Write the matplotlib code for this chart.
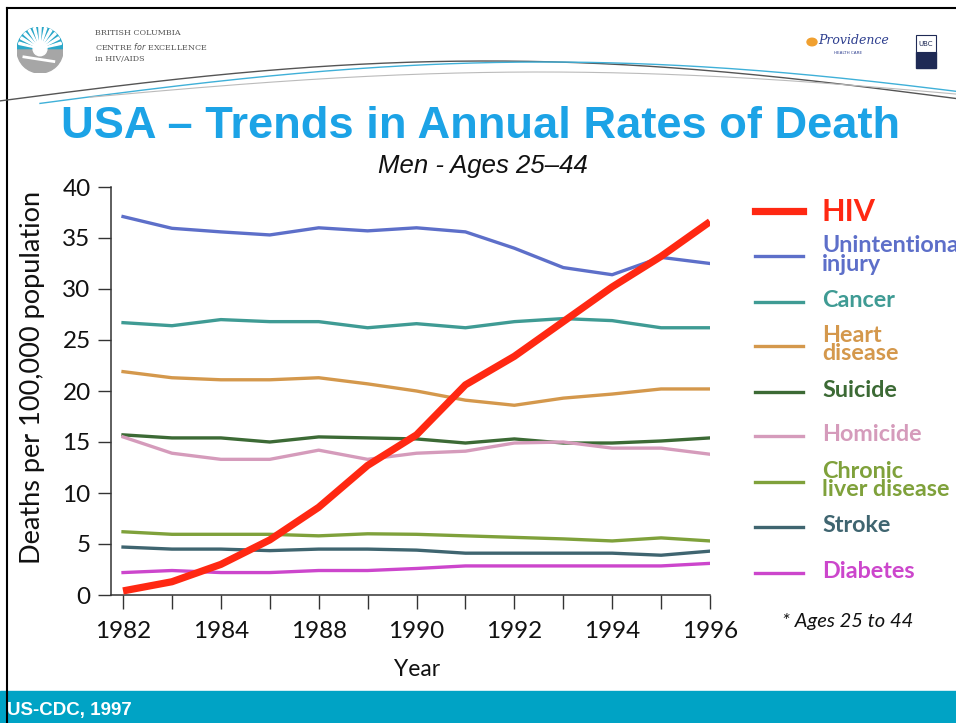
import numpy as np
import matplotlib.pyplot as plt
from matplotlib.lines import Line2D
from matplotlib.patches import Rectangle, Circle, Wedge

# --- data ---
years = ["1982", "", "1984", "", "1988", "", "1990", "", "1992", "", "1994", "", "1996"]

hiv = [0.4, 1.3, 3.0, 5.4, 8.6, 12.7, 15.7, 20.6, 23.4, 26.8, 30.2, 33.2, 36.6]
injury = [37.1, 35.95, 35.6, 35.3, 36.0, 35.7, 36.0, 35.6, 34.0, 32.1, 31.4, 33.1, 32.5]
cancer = [26.7, 26.4, 27.0, 26.8, 26.8, 26.2, 26.6, 26.2, 26.8, 27.1, 26.9, 26.2, 26.2]
heart = [21.9, 21.3, 21.1, 21.1, 21.3, 20.7, 20.0, 19.1, 18.6, 19.3, 19.7, 20.2, 20.2]
suicide = [15.7, 15.4, 15.4, 15.0, 15.5, 15.4, 15.3, 14.9, 15.3, 14.9, 14.9, 15.1, 15.4]
homicide = [15.5, 13.9, 13.3, 13.3, 14.2, 13.3, 13.9, 14.1, 14.9, 15.0, 14.4, 14.4, 13.8]
liver = [6.2, 5.95, 5.95, 5.95, 5.8, 6.0, 5.95, 5.8, 5.65, 5.5, 5.3, 5.6, 5.3]
stroke = [4.7, 4.5, 4.5, 4.35, 4.5, 4.5, 4.4, 4.1, 4.1, 4.1, 4.1, 3.9, 4.3]
diabetes = [2.2, 2.4, 2.2, 2.2, 2.4, 2.4, 2.6, 2.85, 2.85, 2.85, 2.85, 2.85, 3.1]

names = ["HIV", "Unintentional\ninjury", "Cancer", "Heart\ndisease", "Suicide",
         "Homicide", "Chronic\nliver disease", "Stroke", "Diabetes"]
series = [hiv, injury, cancer, heart, suicide, homicide, liver, stroke, diabetes]
colors = ["#ff2812", "#5d6fc9", "#3f9b94", "#d4984c", "#3c6a35",
          "#d59bbb", "#7fa13b", "#3f6570", "#cc46cc"]

W, H = 956, 723


def px(x, y):
    return (x / W, 1 - y / H)


fig = plt.figure(figsize=(W / 100, H / 100), dpi=100)
fig.patch.set_facecolor("white")

# slide frame (top + left)
fig.add_artist(Line2D([px(7, 8)[0], 1], [px(7, 8)[1]] * 2, color="black", lw=1.5))
fig.add_artist(Line2D([px(7, 8)[0]] * 2, [px(7, 8)[1], 0], color="black", lw=1.5))

# header swooshes
t = np.linspace(0, 1, 200)
sx = t * W
fig.add_artist(Line2D(*zip(*[px(x, 103 - 42 * np.sin(np.pi * x / W * 0.95 + 0.05)) for x in sx]),
                      color="#555555", lw=1.0))
bx = 40 + t * (W - 40)
fig.add_artist(Line2D(*zip(*[px(x, 108 - 46 * np.sin(np.pi * (x - 40) / (W - 40) * 0.85 + 0.1)) for x in bx]),
                      color="#3fb0d8", lw=1.0))
gx = 90 + t * (W - 90)
fig.add_artist(Line2D(*zip(*[px(x, 100 - 28 * np.sin(np.pi * (x - 90) / (W - 90) * 0.9 + 0.1)) for x in gx]),
                      color="#bbbbbb", lw=0.8))

# BC Centre logo
lx, ly = px(40, 50)
logo_r = 23 / H
asp = H / W
circ = fig.add_axes([lx - logo_r * asp, ly - logo_r, 2 * logo_r * asp, 2 * logo_r])
circ.set_xlim(-1, 1)
circ.set_ylim(-1, 1)
circ.axis("off")
circ.add_patch(Wedge((0, 0), 1, 0, 180, color="#2aa7c9"))
circ.add_patch(Wedge((0, 0), 1, 180, 360, color="#a6a6a6"))
for a in np.linspace(15, 165, 11):
    circ.add_patch(Wedge((0, 0.05), 0.95, a - 3, a + 3, color="white"))
circ.add_patch(Circle((0, 0.05), 0.3, color="white"))
circ.plot([-0.7, 0.6], [-0.3, -0.5], color="white", lw=2)

fig.text(*px(95, 33), "BRITISH COLUMBIA", family="DejaVu Serif", fontsize=5.8,
         color="#555555", va="center")
fig.text(*px(95, 46), "CENTRE $\\it{for}$ EXCELLENCE", family="DejaVu Serif", fontsize=5.8,
         color="#555555", va="center")
fig.text(*px(95, 59), "in HIV/AIDS", family="DejaVu Serif", fontsize=5.8,
         color="#555555", va="center")

# Providence / UBC marks
fig.add_artist(Circle(px(812, 42), 5 / W, color="#f0a030"))
fig.text(*px(818, 40), "Providence", family="DejaVu Serif", style="italic", fontsize=9,
         color="#2e3f8f", va="center")
fig.text(*px(834, 53), "HEALTH CARE", fontsize=3, color="#2e3f8f", va="center")
fig.add_artist(Rectangle(px(916, 68), 20 / W, 16 / H, color="#1f2a55"))
fig.add_artist(Rectangle(px(916, 52), 20 / W, 17 / H, facecolor="white", edgecolor="#1f2a55", lw=0.8))
fig.text(*px(926, 44), "UBC", fontsize=5, color="#1f2a55", ha="center", va="center", zorder=5)

# title
fig.text(*px(481, 127), "USA \u2013 Trends in Annual Rates of Death", family="Liberation Sans",
         weight="bold", fontsize=32.6, color="#1ca3e6", ha="center", va="center")
fig.text(*px(483, 166), "Men - Ages 25\u201344", family="Liberation Sans", style="italic",
         fontsize=18.5, color="#111111", ha="center", va="center")

# chart
ax = fig.add_axes([110.8 / W, (H - 595) / H, 599.2 / W, 408 / H])
x = np.arange(len(years))
for i, (vals, c) in enumerate(zip(series, colors)):
    if i == 0:
        continue
    ax.plot(x, vals, color=c, lw=2.4, solid_joinstyle="round", zorder=2)
ax.plot(x, hiv, color=colors[0], lw=5.2, solid_joinstyle="round", solid_capstyle="butt", zorder=3)

ax.set_xlim(-0.25, 12)
ax.set_ylim(0, 40)
ax.set_xticks(x)
ax.set_xticklabels(years)
ax.set_yticks(np.arange(0, 41, 5))
for s in ["top", "right"]:
    ax.spines[s].set_visible(False)
for s in ["left", "bottom"]:
    ax.spines[s].set_color("#333333")
    ax.spines[s].set_linewidth(1.1)
ax.tick_params(axis="y", length=9.5, width=1.0, color="#333333", pad=5,
               labelsize=17.5, labelcolor="#111111")
ax.tick_params(axis="x", length=10, width=1.0, color="#333333", pad=8.5,
               labelsize=17.5, labelcolor="#111111")
for lab in ax.get_xticklabels() + ax.get_yticklabels():
    lab.set_family("Lato")

fig.text(*px(33, 377), "Deaths per 100,000 population", family="Lato", fontsize=19.5,
         rotation=90, ha="center", va="center", color="#111111")
fig.text(*px(417, 669), "Year", family="Lato", fontsize=16.5, ha="center", va="center",
         color="#111111")

# legend
leg_y = [211, 256, 301.5, 345.5, 391.5, 435.5, 481.5, 527, 573]
for name, c, yy in zip(names, colors, leg_y):
    lw = 5.2 if name == "HIV" else 2.4
    fig.add_artist(Line2D([755 / W, 803 / W], [px(0, yy)[1]] * 2, color=c, lw=lw))
    fs = 22 if name == "HIV" else 16.8
    fig.text(822 / W, px(0, yy + (1 if name == "HIV" else -1))[1], name, family="Lato",
             weight="bold", fontsize=fs, color=c, va="center", linespacing=0.88)
fig.text(*px(848, 622), "* Ages 25 to 44", family="Lato", style="italic", fontsize=14.5,
         ha="center", va="center", color="#111111")

# footer
fig.add_artist(Rectangle((0, 0), 1, (H - 691) / H, color="#00a3c5"))
fig.text(*px(7, 710), "US-CDC, 1997", family=["Liberation Sans Narrow", "Liberation Sans"],
         weight="bold", fontsize=13.5, color="white", va="center")

fig.savefig("out.png", dpi=100)
